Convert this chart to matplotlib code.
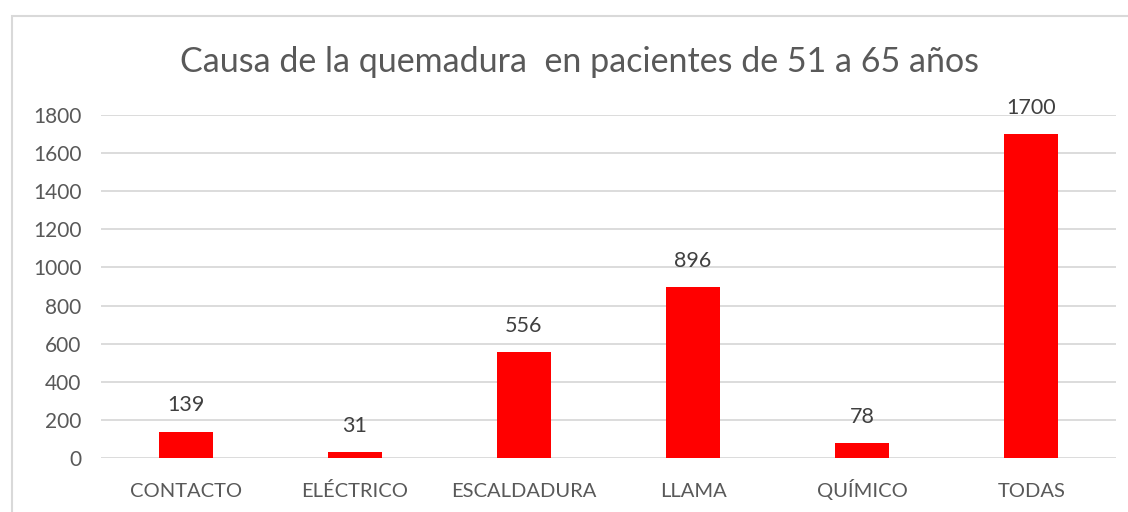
import matplotlib
matplotlib.use("Agg")
import matplotlib.pyplot as plt
from matplotlib.patches import Rectangle

categories = ["CONTACTO", "ELÉCTRICO", "ESCALDADURA", "LLAMA", "QUÍMICO", "TODAS"]
values = [139, 31, 556, 896, 78, 1700]
yticks = [0, 200, 400, 600, 800, 1000, 1200, 1400, 1600, 1800]
title = "Causa de la quemadura  en pacientes de 51 a 65 años"

plt.rcParams['font.family'] = ['Lato', 'DejaVu Sans']
W, H = 1128, 512
fig = plt.figure(figsize=(W / 100, H / 100), dpi=100)
fig.patch.set_facecolor("white")

# outer chart border
fig.add_artist(Rectangle((12 / W, -0.05), 1.1, 1 - 16 / H + 0.05, transform=fig.transFigure,
                         fill=False, edgecolor="#d9d9d9", linewidth=1.5))

ax = fig.add_axes([101 / W, 1 - 458 / H, (1116 - 101) / W, (458 - 115) / H])
x = list(range(len(categories)))
ax.bar(x, values, width=0.32, color="#ff0000", zorder=3)
ax.set_xlim(-0.5, len(categories) - 0.5)
ax.set_ylim(0, 1800)
ax.set_yticks(yticks)
ax.set_yticklabels([str(t) for t in yticks])
ax.set_xticks(x)
ax.set_xticklabels(categories, va="baseline")
ax.grid(axis="y", color="#d9d9d9", linewidth=1.3, zorder=0)
for s in ax.spines.values():
    s.set_visible(False)
ax.tick_params(axis="y", length=0, labelsize=15, colors="#595959", pad=14)
ax.tick_params(axis="x", length=0, labelsize=14.5, colors="#595959", pad=28)

for xi, v in zip(x, values):
    ax.annotate(str(v), (xi, v), xytext=(0, 19), textcoords="offset points",
                ha="center", va="center", fontsize=15.5, color="#404040")

fig.text(580 / W, 1 - 62 / H, title, ha="center", va="center",
         fontsize=24.5, color="#595959")

fig.savefig("out.png", dpi=100)
